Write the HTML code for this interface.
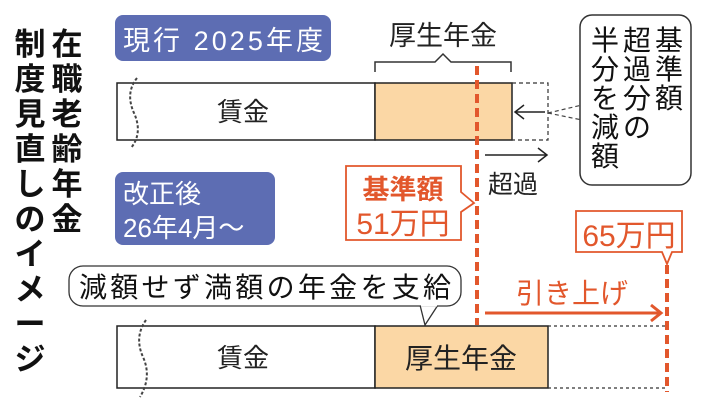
<!DOCTYPE html>
<html><head><meta charset="utf-8"><style>
body{margin:0;background:#fff;width:705px;height:400px;overflow:hidden}
svg text{font-family:"Liberation Sans","Noto Sans CJK JP",sans-serif}
</style></head><body>
<svg width="705" height="400" viewBox="0 0 705 400" xmlns="http://www.w3.org/2000/svg">
<g font-size="31" font-weight="bold" fill="#111" text-anchor="middle">
<text x="67" y="55">在</text><text x="67" y="90">職</text><text x="67" y="125">老</text><text x="67" y="160">齢</text><text x="67" y="195">年</text><text x="67" y="230">金</text>
<text x="30" y="55">制</text><text x="30" y="90">度</text><text x="30" y="125">見</text><text x="30" y="160">直</text><text x="30" y="195">し</text><text x="30" y="230">の</text><text x="30" y="265">イ</text><text x="30" y="300">メ</text><text x="30" y="335">ー</text><text x="30" y="370">ジ</text>
</g>
<rect x="115" y="15" width="216" height="46" rx="8" fill="#5d6db3"/>
<text x="123" y="50" font-size="27" fill="#fff" textLength="200">現行 2025年度</text>
<rect x="115" y="172" width="160" height="73" rx="8" fill="#5d6db3"/>
<text x="123" y="203" font-size="26" fill="#fff">改正後</text>
<text x="123" y="237" font-size="26" fill="#fff">26年4月～</text>
<rect x="117" y="83" width="258" height="57" fill="#fff" stroke="#222" stroke-width="1.5"/>
<rect x="375" y="83" width="137" height="57" fill="#fbd7a5" stroke="#222" stroke-width="1.5"/>
<rect x="512" y="83" width="36" height="57" fill="none" stroke="#333" stroke-width="1.2" stroke-dasharray="4,3"/>
<text x="243" y="121" font-size="26" text-anchor="middle" fill="#222">賃金</text>
<path d="M137 78 q-12 15 -3 35 q9 20 -3 35" fill="none" stroke="#444" stroke-width="2" stroke-dasharray="3,2"/>
<path d="M375 72 v-10 h60 l8 -8 l8 8 h60 v10" fill="none" stroke="#333" stroke-width="1.5"/>
<text x="443" y="45" font-size="27" text-anchor="middle" fill="#222">厚生年金</text>
<path d="M545 112 h-30 M524 105 l-9 7 l9 7" fill="none" stroke="#222" stroke-width="1.5"/>
<path d="M485 155 h62 M538 148 l9 7 l-9 7" fill="none" stroke="#222" stroke-width="1.5"/>
<text x="513" y="193" font-size="25" text-anchor="middle" fill="#222">超過</text>
<path d="M548 113 L582 105" stroke="#444" stroke-width="1.2" stroke-dasharray="4,3"/>
<path d="M548 113 L582 120" stroke="#444" stroke-width="1.2" stroke-dasharray="4,3"/>
<rect x="580" y="15" width="111" height="170" rx="12" fill="#fff" stroke="#333" stroke-width="1.5"/>
<g font-size="28" text-anchor="middle" fill="#111">
<text x="669" y="50">基</text><text x="669" y="79">準</text><text x="669" y="108">額</text>
<text x="637" y="50">超</text><text x="637" y="79">過</text><text x="637" y="108">分</text><text x="637" y="137">の</text>
<text x="605" y="50">半</text><text x="605" y="79">分</text><text x="605" y="108">を</text><text x="605" y="137">減</text><text x="605" y="166">額</text>
</g>
<line x1="477" y1="66" x2="477" y2="325" stroke="#e2572c" stroke-width="4" stroke-dasharray="9,5"/>
<line x1="667" y1="265" x2="667" y2="392" stroke="#e2572c" stroke-width="4" stroke-dasharray="9,5"/>
<path d="M346 166 H461 V192 L474 203 L461 212 V240 H346 Z" fill="#fff" stroke="#e2572c" stroke-width="1.8"/>
<text x="403" y="199" font-size="27" font-weight="bold" text-anchor="middle" fill="#e2572c">基準額</text>
<text x="403" y="234" font-size="30" text-anchor="middle" fill="#e2572c">51万円</text>
<path d="M576 211 H682 V252 H672 L667 264 L662 252 H576 Z" fill="#fff" stroke="#e2572c" stroke-width="1.8"/>
<text x="629" y="246" font-size="30" text-anchor="middle" fill="#e2572c">65万円</text>
<path d="M438 305 L425 325 L420 305" fill="#fff" stroke="#333" stroke-width="1.3"/>
<rect x="69" y="266" width="392" height="40" rx="14" fill="#fff" stroke="#333" stroke-width="1.3"/>
<path d="M421 305.5 h16" stroke="#fff" stroke-width="2"/>
<text x="265" y="297" font-size="28" text-anchor="middle" fill="#111" textLength="372">減額せず満額の年金を支給</text>
<text x="572" y="303" font-size="28" text-anchor="middle" fill="#e2572c">引き上げ</text>
<path d="M485 313 h175 M651 305 l10 8 l-10 8" fill="none" stroke="#e2572c" stroke-width="3"/>
<rect x="117" y="326" width="258" height="62" fill="#fff" stroke="#222" stroke-width="1.5"/>
<rect x="375" y="326" width="173" height="62" fill="#fbd7a5" stroke="#222" stroke-width="1.5"/>
<path d="M548 326 H667 M548 388 H667" stroke="#333" stroke-width="1.2" stroke-dasharray="3,3"/>
<text x="243" y="367" font-size="26" text-anchor="middle" fill="#222">賃金</text>
<text x="461" y="368" font-size="28" text-anchor="middle" fill="#222">厚生年金</text>
<path d="M146 320 q-12 17 -3 37 q9 20 -3 40" fill="none" stroke="#444" stroke-width="2" stroke-dasharray="3,2"/>
</svg>
</body></html>
